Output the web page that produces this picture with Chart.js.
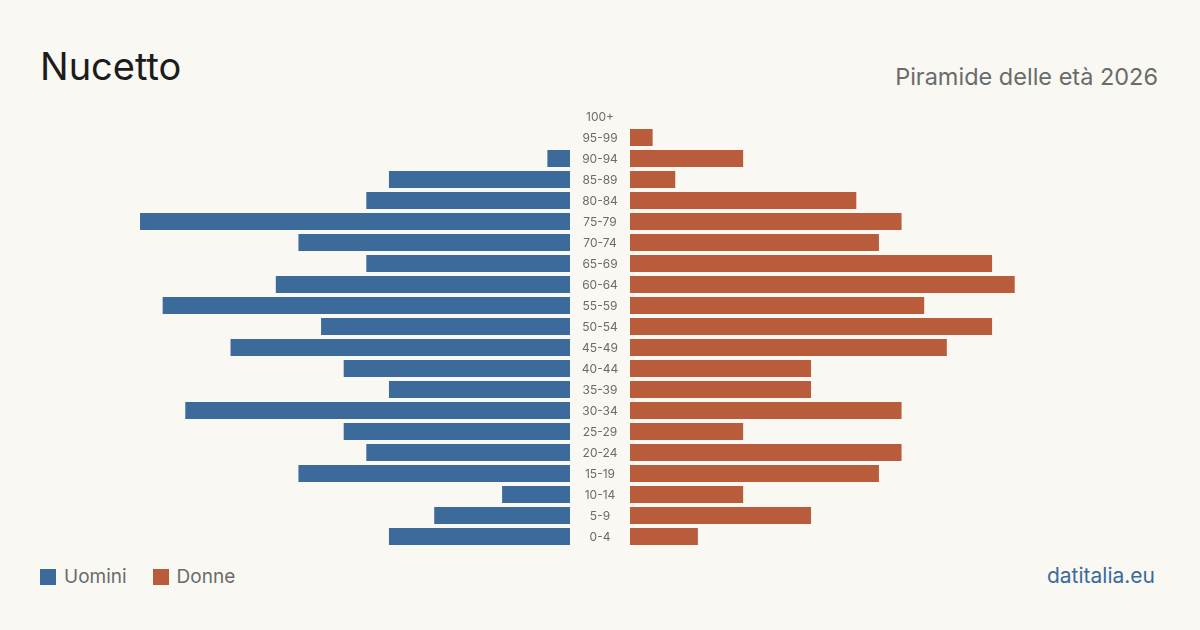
<!DOCTYPE html>
<html lang="it">
<head>
<meta charset="utf-8">
<script src="https://cdn.jsdelivr.net/npm/chart.js@4/dist/chart.umd.min.js"></script>
<style>
  body { margin: 0; width: 1200px; height: 630px; background: #f9f8f3; font-family: Inter, "Noto Sans", sans-serif; overflow: hidden; position: relative; }
  .abs { position: absolute; line-height: 1; white-space: nowrap; }
  #titolo { left: 40px; top: 47px; font-size: 38px; color: #1c1c1c; }
  #sottotitolo { right: 42px; top: 65px; font-size: 23.5px; color: #6b6b6b; }
  #legenda { left: 40px; top: 567px; font-size: 19px; color: #6b6b6b; }
  #legenda span.q { display: inline-block; width: 16px; height: 16px; vertical-align: -2px; margin-right: 8px; }
  #fonte { right: 45px; top: 565px; font-size: 21px; color: #3b6a9b; }
  canvas { position: absolute; }
</style>
</head>
<body>
<div id="titolo" class="abs">Nucetto</div>
<div id="sottotitolo" class="abs">Piramide delle età 2026</div>
<div id="legenda" class="abs"><span class="q" style="background:#3b6a9b"></span>Uomini<span class="q" style="background:#b95c3c;margin-left:26px"></span>Donne</div>
<div id="fonte" class="abs">datitalia.eu</div>

<canvas id="graficoUomini" width="590" height="441" style="left:40px;top:106px"></canvas>
<canvas id="graficoDonne" width="530" height="441" style="left:630px;top:106px"></canvas>

<script>
// Dati
const classi = ["100+", "95-99", "90-94", "85-89", "80-84", "75-79", "70-74", "65-69", "60-64", "55-59", "50-54",
                "45-49", "40-44", "35-39", "30-34", "25-29", "20-24", "15-19", "10-14", "5-9", "0-4"];
const uomini = [0, 0, 1, 8, 9, 19, 12, 9, 13, 18, 11, 15, 10, 8, 17, 10, 9, 12, 3, 6, 8];
const donne  = [0, 1, 5, 2, 10, 12, 11, 16, 17, 13, 16, 14, 8, 8, 12, 5, 12, 11, 5, 8, 3];

const massimo = 23.42;
const BLU = "#3b6a9b";
const ROSSO = "#b95c3c";

// etichette delle classi d'età nella colonna centrale
const etichetteCentro = {
    id: "etichetteCentro",
    afterDraw(chart) {
        const ctx = chart.ctx;
        const y = chart.scales.y;
        const xc = chart.chartArea.right + 30;
        ctx.save();
        ctx.fillStyle = "#6b6b6b";
        ctx.font = "12px Inter";
        ctx.textAlign = "center";
        ctx.textBaseline = "middle";
        classi.forEach((c, i) => {
            ctx.fillText(c, xc, y.getPixelForValue(i) + 1);
        });
        ctx.restore();
    }
};

function opzioni(reverse, destra) {
    return {
        indexAxis: "y",
        responsive: false,
        animation: false,
        layout: { padding: { left: 0, right: destra, top: 0, bottom: 0 } },
        plugins: { legend: { display: false }, tooltip: { enabled: false } },
        scales: {
            x: { display: false, min: 0, max: massimo, reverse: reverse },
            y: { display: false }
        }
    };
}

new Chart(document.getElementById("graficoUomini"), {
    type: "bar",
    data: {
        labels: classi,
        datasets: [{ label: "Uomini", data: uomini, backgroundColor: BLU, categoryPercentage: 1, barPercentage: 0.81 }]
    },
    options: opzioni(true, 60),
    plugins: [etichetteCentro]
});

new Chart(document.getElementById("graficoDonne"), {
    type: "bar",
    data: {
        labels: classi,
        datasets: [{ label: "Donne", data: donne, backgroundColor: ROSSO, categoryPercentage: 1, barPercentage: 0.81 }]
    },
    options: opzioni(false, 0)
});
</script>
</body>
</html>
